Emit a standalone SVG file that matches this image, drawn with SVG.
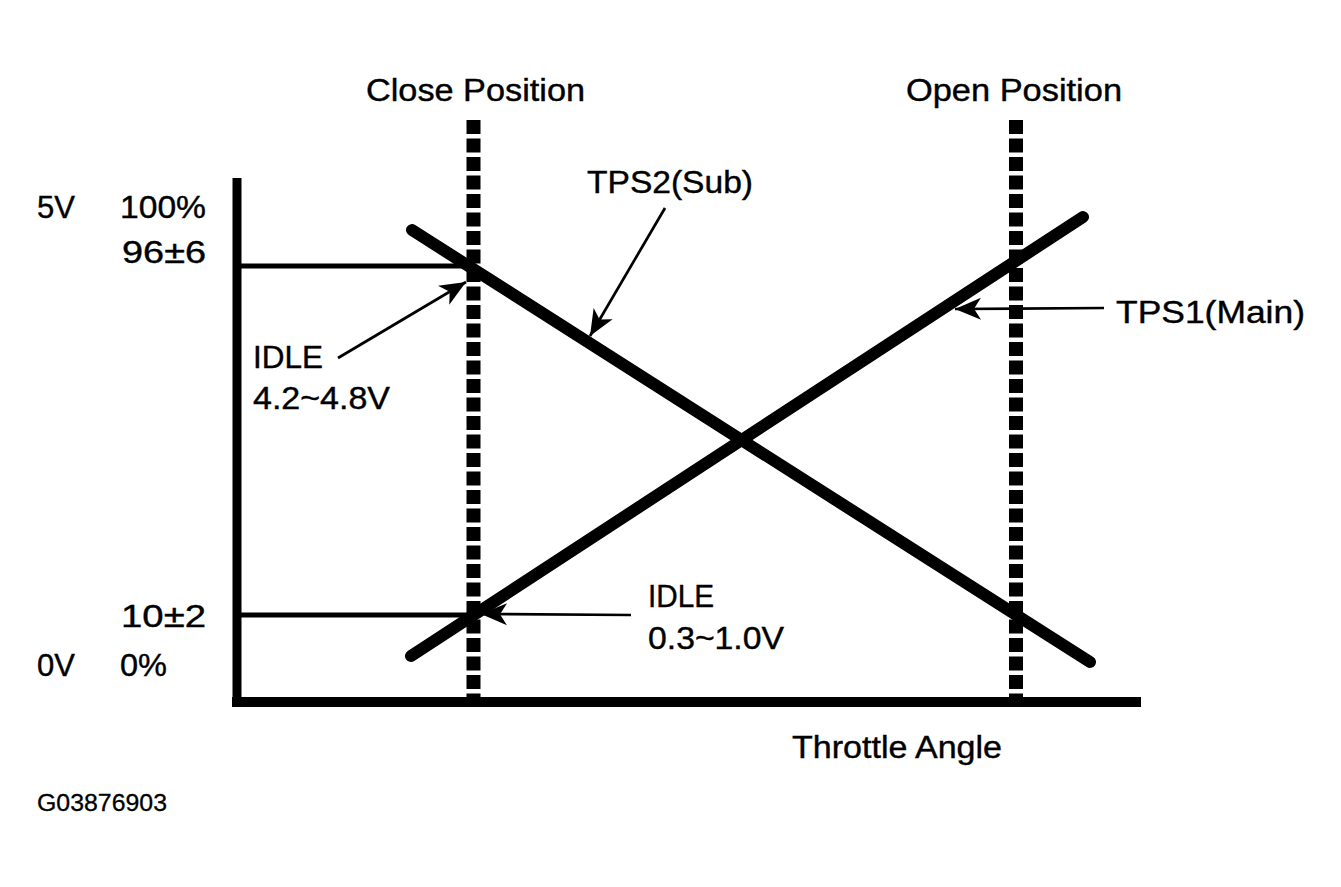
<svg xmlns="http://www.w3.org/2000/svg" width="1341" height="887" viewBox="0 0 1341 887">
<style>
text{font-family:"Liberation Sans",Arial,sans-serif;font-size:31px;fill:#000;stroke:#000;stroke-width:0.4}
.small{font-size:23px;stroke-width:0.3}
.axis{stroke:#000;fill:none}
.ref{stroke:#000;stroke-width:5;fill:none}
.dash{stroke:#000;stroke-width:14;stroke-dasharray:14 4.5;fill:none}
.curve{stroke:#000;stroke-width:12;stroke-linecap:round;fill:none}
.arrow{stroke:#000;stroke-width:2.7;fill:none;marker-end:url(#ah)}
</style>
<defs>
<marker id="ah" markerUnits="userSpaceOnUse" viewBox="-28 -13 30 26" markerWidth="30" markerHeight="26" refX="0" refY="0" orient="auto">
<path d="M0,0 L-26,-11 L-19,0 L-26,11 Z" fill="#000"/>
</marker>
</defs>
<rect width="1341" height="887" fill="#fff"/>
<g id="axes">
<line class="axis" x1="237" y1="178" x2="237" y2="707" stroke-width="9"/>
<line class="axis" x1="232" y1="702" x2="1141" y2="702" stroke-width="10"/>
</g>
<g id="reference-lines">
<line class="ref" x1="237" y1="266" x2="473" y2="266"/>
<line class="ref" x1="237" y1="615" x2="473" y2="615"/>
</g>
<g id="close-position">
<line class="dash" x1="473.5" y1="120" x2="473.5" y2="700"/>
<text x="366" y="101" textLength="219" lengthAdjust="spacingAndGlyphs">Close Position</text>
</g>
<g id="open-position">
<line class="dash" x1="1016" y1="120" x2="1016" y2="700"/>
<text x="906" y="101" textLength="216" lengthAdjust="spacingAndGlyphs">Open Position</text>
</g>
<g id="tps2">
<line class="curve" x1="412" y1="230" x2="1090" y2="662"/>
<text x="587" y="193" textLength="166" lengthAdjust="spacingAndGlyphs">TPS2(Sub)</text>
</g>
<g id="tps1">
<line class="curve" x1="411" y1="656" x2="1083" y2="217"/>
<text x="1116" y="323" textLength="189" lengthAdjust="spacingAndGlyphs">TPS1(Main)</text>
</g>
<g id="y-labels">
<text x="37" y="218">5V</text>
<text x="120" y="218" textLength="86" lengthAdjust="spacingAndGlyphs">100%</text>
<text x="122" y="263" textLength="84" lengthAdjust="spacingAndGlyphs">96±6</text>
<text x="121" y="627" textLength="85" lengthAdjust="spacingAndGlyphs">10±2</text>
<text x="37" y="676">0V</text>
<text x="120" y="676" textLength="47" lengthAdjust="spacingAndGlyphs">0%</text>
</g>
<g id="idle-high">
<text x="253" y="368" textLength="70" lengthAdjust="spacingAndGlyphs">IDLE</text>
<text x="253" y="409" textLength="137" lengthAdjust="spacingAndGlyphs">4.2~4.8V</text>
</g>
<g id="idle-low">
<text x="648" y="607" textLength="66" lengthAdjust="spacingAndGlyphs">IDLE</text>
<text x="648" y="649" textLength="136" lengthAdjust="spacingAndGlyphs">0.3~1.0V</text>
</g>
<g id="x-label">
<text x="792" y="758" textLength="210" lengthAdjust="spacingAndGlyphs">Throttle Angle</text>
</g>
<g id="figure-id">
<text class="small" x="37" y="811" textLength="130" lengthAdjust="spacingAndGlyphs">G03876903</text>
</g>
<g id="connectors">
<line class="arrow" x1="338" y1="358" x2="466" y2="282"/>
<line class="arrow" x1="665" y1="208" x2="590" y2="336"/>
<line class="arrow" x1="1104" y1="308" x2="955" y2="309"/>
<line class="arrow" x1="631" y1="615" x2="481" y2="614"/>
</g>
</svg>
